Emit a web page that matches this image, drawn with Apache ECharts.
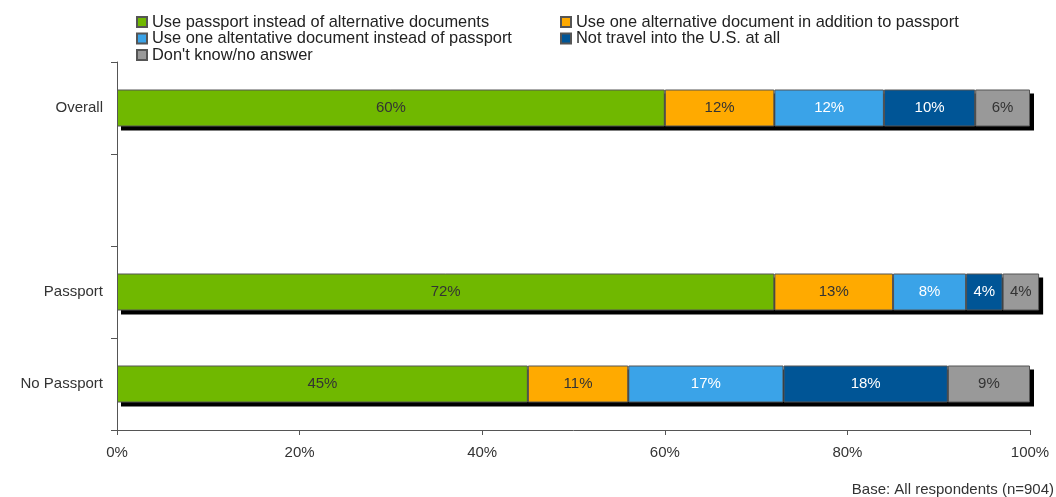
<!DOCTYPE html>
<html><head><meta charset="utf-8">
<script src="https://cdn.jsdelivr.net/npm/echarts@6/dist/echarts.min.js"></script>
<style>html,body{margin:0;padding:0;background:#fff}#c{width:1056px;height:497px}</style>
</head><body><div id="c"></div>
<script>
const categories = ['Overall', '', 'Passport', 'No Passport'];
const seriesNames = [
  'Use passport instead of alternative documents',
  'Use one alternative document in addition to passport',
  'Use one altentative document instead of passport',
  'Not travel into the U.S. at all',
  "Don't know/no answer"
];
const usePassport = [60, null, 72, 45];
const useAltPlusPassport = [12, null, 13, 11];
const useAltInstead = [12, null, 8, 17];
const notTravel = [10, null, 4, 18];
const dontKnow = [6, null, 4, 9];
const xTicks = [0, 20, 40, 60, 80, 100];
const colors = ['#70b800', '#ffaa00', '#3aa3e8', '#005596', '#999999'];
const labelColors = ['#333', '#333', '#fff', '#fff', '#333'];
const values = [usePassport, useAltPlusPassport, useAltInstead, notTravel, dontKnow];
const FONT = 'Liberation Sans, Arial, sans-serif';
const BAR_W = 37;

const totals = categories.map((c, j) => {
  if (values[0][j] == null) return null;
  return [values.reduce((s, arr) => s + (arr[j] || 0), 0), j];
}).filter(Boolean);

const chart = echarts.init(document.getElementById('c'));
const legendText = { fontSize: 16.4, lineHeight: 16, color: '#222', fontFamily: FONT };
chart.setOption({
  animation: false,
  textStyle: { fontFamily: FONT },
  legend: [
    { left: 131, top: 9, orient: 'vertical', itemWidth: 10, itemHeight: 10, itemGap: 0.5,
      icon: 'rect', textStyle: legendText,
      data: [seriesNames[0], seriesNames[2], seriesNames[4]], selectedMode: false },
    { left: 555, top: 9, orient: 'vertical', itemWidth: 10, itemHeight: 10, itemGap: 0.5,
      icon: 'rect', textStyle: legendText,
      data: [seriesNames[1], seriesNames[3]], selectedMode: false }
  ],
  graphic: [{ type: 'text', right: 2, bottom: 0,
    style: { text: 'Base: All respondents (n=904)', fontSize: 15, fill: '#333', fontFamily: FONT } }],
  grid: { left: 117, right: 26, top: 62, bottom: 67 },
  xAxis: {
    type: 'value', min: 0, max: 100, interval: 20,
    axisLine: { show: true, lineStyle: { color: '#555' } },
    axisTick: { show: true, length: 5, lineStyle: { color: '#555' } },
    splitLine: { show: false },
    axisLabel: { formatter: v => xTicks.includes(v) ? v + '%' : '', fontSize: 15, color: '#333', margin: 15 }
  },
  yAxis: {
    type: 'category', inverse: true, data: categories,
    axisLine: { show: true, lineStyle: { color: '#555' } },
    axisTick: { show: true, length: 6, lineStyle: { color: '#555' } },
    axisLabel: { fontSize: 15, color: '#333', margin: 14 }
  },
  series: [{
    type: 'custom', name: 'shadow', z: 1, silent: true, clip: false,
    encode: { x: 0, y: 1 },
    data: totals,
    renderItem: (params, api) => {
      const start = api.coord([0, api.value(1)]);
      const end = api.coord([api.value(0), api.value(1)]);
      return { type: 'rect',
        shape: { x: start[0] + 4, y: start[1] - BAR_W / 2 + 4, width: end[0] - start[0], height: BAR_W },
        style: { fill: '#000' } };
    }
  }].concat(values.map((d, i) => ({
    name: seriesNames[i], type: 'bar', stack: 'all', data: d, barWidth: BAR_W, clip: false, z: 2,
    itemStyle: { color: colors[i], borderColor: '#555', borderWidth: 1 },
    label: { show: true, position: 'inside', formatter: p => p.value + '%',
      fontSize: 15, color: labelColors[i], fontFamily: FONT }
  })))
});
</script></body></html>
